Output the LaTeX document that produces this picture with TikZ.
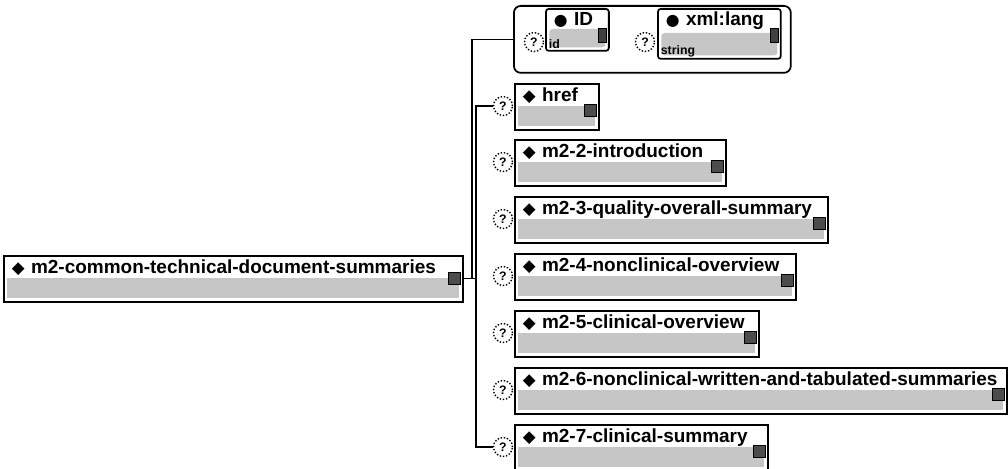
\documentclass[tikz,border=0pt]{standalone}
\usepackage{fontspec}
\setmainfont{Liberation Sans}
\newfontfamily\symfont{DejaVu Sans}
\usetikzlibrary{positioning}

\tikzset{
  elem/.style={draw, line width=1pt, anchor=north west, inner xsep=0.16cm, inner ysep=0pt,
    text height=0.36cm, text depth=0.56cm, align=left,
    font=\fontsize{10.8}{12}\selectfont\bfseries,
    path picture={\fill[gray!45] ([shift={(2pt,2pt)}]path picture bounding box.south west)
      rectangle ([shift={(-2pt,0.5pt)}]path picture bounding box.east);}},
  attr/.style={elem, rounded corners=0.06cm, text height=0.34cm},
  btn/.style={draw, line width=0.6pt, fill=black!70, minimum size=0.24cm, inner sep=0pt, anchor=east},
  bar/.style={draw, line width=0.6pt, fill=black!75, minimum width=0.16cm, minimum height=0.28cm,
    inner sep=0pt, anchor=east},
  opt/.style={circle, draw, densely dotted, line width=0.8pt, minimum size=0.38cm, inner sep=0pt,
    font=\scriptsize\bfseries},
  attrgroup/.style={draw, line width=1pt, rounded corners=0.14cm, anchor=north west,
    minimum width=5.54cm, minimum height=1.34cm, inner sep=0pt},
  typ/.style={anchor=south west, inner sep=1pt, font=\fontsize{7}{8}\selectfont\bfseries},
  link/.style={line width=0.7pt}
}
\newcommand{\elm}[1]{{\symfont\fontsize{9.5}{9.5}\selectfont\char"25C6}~\mbox{#1}}
\newcommand{\att}[1]{{\symfont\fontsize{9}{9}\selectfont\char"25CF}~\mbox{#1}}

\begin{document}
\begin{tikzpicture}[x=0.02cm, y=-0.02cm]
    \useasboundingbox (0,0) rectangle (1008,469);

    % root element
    \node[elem, text width=8.86cm] (root) at (3,255) {\elm{m2-common-technical-document-summaries}};
    \node[btn] (rootbtn) at ([xshift=-1.5pt]root.east) {};

    % attributes
    \node[attrgroup] (attrs) at (513,5) {};
    \node[opt] (qid) at (534,42) {?};
    \node[attr, text width=0.94cm, text depth=0.5cm] (id) at (545,8) {\att{ID}};
    \node[bar] (idbar) at ([xshift=-1.5pt,yshift=-3pt]id.east) {};
    \node[typ] (idtype) at ([xshift=1pt,yshift=0.5pt]id.south west) {id};
    \node[opt] (qlang) at (645,42) {?};
    \node[attr, text width=2.14cm, text depth=0.66cm] (lang) at (657,8) {\att{xml:lang}};
    \node[bar] (langbar) at ([xshift=-1.5pt,yshift=-1pt]lang.east) {};
    \node[typ] (langtype) at ([xshift=1pt,yshift=0.5pt]lang.south west) {string};

    % child elements
    \node[elem, text width=1.36cm] (href) at (514,83) {\elm{href}};
    \node[btn] (hrefbtn) at ([xshift=-1.5pt,yshift=-2pt]href.east) {};
    \node[opt] (qhref) at (503,106) {?};

    \node[elem, text width=3.90cm] (intro) at (514,139) {\elm{m2-2-introduction}};
    \node[btn] (introbtn) at ([xshift=-1.5pt,yshift=-2pt]intro.east) {};
    \node[opt] (qintro) at (503,162) {?};

    \node[elem, text width=5.94cm] (quality) at (514,196) {\elm{m2-3-quality-overall-summary}};
    \node[btn] (qualitybtn) at ([xshift=-1.5pt,yshift=-2pt]quality.east) {};
    \node[opt] (qquality) at (503,219) {?};

    \node[elem, text width=5.30cm] (nonclin) at (514,253) {\elm{m2-4-nonclinical-overview}};
    \node[btn] (nonclinbtn) at ([xshift=-1.5pt,yshift=-2pt]nonclin.east) {};
    \node[opt] (qnonclin) at (503,276) {?};

    \node[elem, text width=4.56cm] (clin) at (514,310) {\elm{m2-5-clinical-overview}};
    \node[btn] (clinbtn) at ([xshift=-1.5pt,yshift=-2pt]clin.east) {};
    \node[opt] (qclin) at (503,333) {?};

    \node[elem, text width=9.52cm] (written) at (514,367) {\elm{m2-6-nonclinical-written-and-tabulated-summaries}};
    \node[btn] (writtenbtn) at ([xshift=-1.5pt,yshift=-2pt]written.east) {};
    \node[opt] (qwritten) at (503,390) {?};

    \node[elem, text width=4.74cm] (summary) at (514,424) {\elm{m2-7-clinical-summary}};
    \node[btn] (summarybtn) at ([xshift=-1.5pt,yshift=-2pt]summary.east) {};
    \node[opt] (qsummary) at (503,447) {?};

    % connectors
    \coordinate (busa) at (472,0);
    \coordinate (busb) at (476,0);
    \draw[link] (attrs.west) -- (attrs.west -| busa) -- (root.east -| busa);
    \draw[link] (root.east) -- (root.east -| busb);
    \draw[link] (qhref.west) -- (qhref.west -| busb) -- (qsummary.west -| busb) -- (qsummary.west);
\end{tikzpicture}
\end{document}
